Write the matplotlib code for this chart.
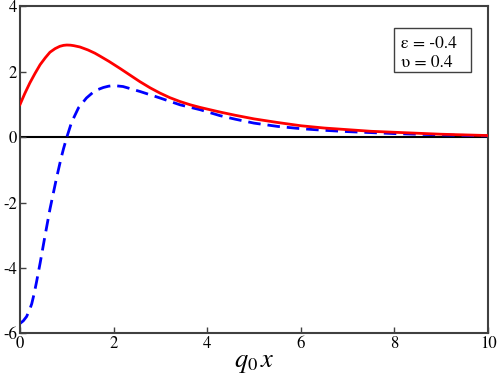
import matplotlib
matplotlib.use("Agg")
import matplotlib.pyplot as plt
from matplotlib.patches import Rectangle

plt.rcParams['font.family'] = ['STIXGeneral', 'DejaVu Serif']
plt.rcParams['mathtext.fontset'] = 'stix'
plt.rcParams['axes.unicode_minus'] = False

# Data
red_x = [0.0, 0.1, 0.21, 0.32, 0.43, 0.54, 0.64, 0.75, 0.85, 0.93, 1.0, 1.08, 1.15, 1.28, 1.45, 1.6,
         1.71, 1.9, 2.14, 2.35, 2.56, 2.78, 2.99, 3.2, 3.42, 3.64, 3.85, 4.27, 4.6, 5.0, 5.5,
         6.0, 6.5, 7.0, 7.5, 8.0, 9.0, 10.0]
red_y = [1.0, 1.33, 1.66, 1.95, 2.22, 2.43, 2.60, 2.71, 2.78, 2.81, 2.82, 2.815, 2.80, 2.76, 2.67, 2.57,
         2.48, 2.32, 2.10, 1.90, 1.70, 1.51, 1.35, 1.21, 1.09, 0.99, 0.91, 0.77, 0.67, 0.56, 0.45,
         0.35, 0.28, 0.23, 0.18, 0.15, 0.09, 0.05]

blue_x = [0.0, 0.07, 0.14, 0.2, 0.25, 0.3, 0.35, 0.43, 0.53, 0.64, 0.78, 0.876, 0.93, 1.0, 1.1,
          1.25, 1.42, 1.55, 1.67, 1.78, 1.89, 2.0, 2.2, 2.56, 2.99, 3.42, 3.85, 4.27, 4.6, 5.0,
          5.5, 6.0, 6.5, 7.0, 7.5, 8.0, 9.0, 10.0]
blue_y = [-5.70, -5.62, -5.49, -5.30, -5.10, -4.80, -4.45, -3.85, -3.05, -2.20, -1.25, -0.65,
          -0.35, 0.0, 0.45, 0.90, 1.20, 1.36, 1.46, 1.52, 1.56, 1.58, 1.55, 1.40, 1.20, 0.99,
          0.84, 0.66, 0.55, 0.43, 0.33, 0.26, 0.21, 0.17, 0.14, 0.11, 0.07, 0.04]

xticks = [0, 2, 4, 6, 8, 10]
yticks = [-6, -4, -2, 0, 2, 4]
label_lines = ["ε = -0.4", "υ = 0.4"]

fig = plt.figure(figsize=(4.98, 3.80), dpi=100)
ax = fig.add_axes([0.0402, 0.123, 0.9398, 0.860])

ax.axhline(0, color='black', lw=1.5, zorder=1)
ax.plot(red_x, red_y, color='#ff0000', lw=2.0, solid_joinstyle='round', zorder=3)
ax.plot(blue_x, blue_y, color='#0000ff', lw=2.0, dashes=(4.5, 2.5), zorder=2)

ax.set_xlim(0, 10)
ax.set_ylim(-6, 4)
ax.set_xticks(xticks)
ax.set_yticks(yticks)
ax.tick_params(direction='in', length=4, width=1, color='#404040', labelsize=12, pad=2)
for s in ax.spines.values():
    s.set_color('#404040')
    s.set_linewidth(1.5)

ax.set_xlabel(r'$q_{\mathit{0}}\,x$', fontsize=19, labelpad=-1)

ax.add_patch(Rectangle((0.800, 0.800), 0.164, 0.133, transform=ax.transAxes,
                       fc='white', ec='#404040', lw=1.0, zorder=5))
ax.text(0.814, 0.872, label_lines[0], transform=ax.transAxes, ha='left', va='baseline',
        fontsize=12.5, zorder=6)
ax.text(0.814, 0.815, label_lines[1], transform=ax.transAxes, ha='left', va='baseline',
        fontsize=12.5, zorder=6)

fig.savefig('out.png', dpi=100)
